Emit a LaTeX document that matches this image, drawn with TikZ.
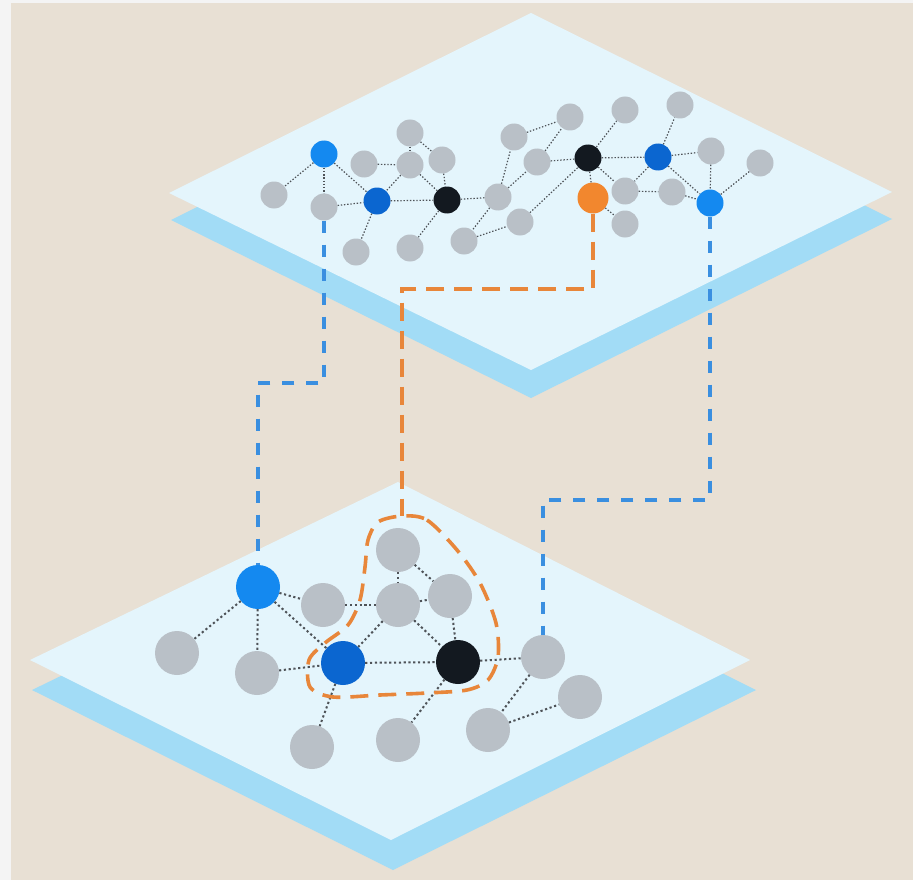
\documentclass[tikz,border=0pt]{standalone}
\usetikzlibrary{arrows}
\definecolor{sheet}{HTML}{F4F4F4}
\definecolor{beige}{HTML}{E8E0D4}
\definecolor{planetop}{HTML}{E4F5FC}
\definecolor{planeside}{HTML}{A2DCF6}
\definecolor{nodegray}{HTML}{B9C0C7}
\definecolor{lightblue}{HTML}{1489F0}
\definecolor{darkblue}{HTML}{0B66D0}
\definecolor{nodeblack}{HTML}{131920}
\definecolor{nodeorange}{HTML}{F2872E}
\definecolor{linkgray}{HTML}{4E5358}
\definecolor{linkblue}{HTML}{3A8FE0}
\definecolor{linkorange}{HTML}{E8863A}
\begin{document}
\begin{tikzpicture}[x=1pt,y=-1pt]
\tikzstyle{every node}=[minimum width=0pt, inner sep=0pt, circle]
\tikzstyle{small}=[minimum size=27pt]
\tikzstyle{big}=[minimum size=44pt]
\tikzstyle{gn}=[fill=nodegray]
\tikzstyle{lb}=[fill=lightblue]
\tikzstyle{db}=[fill=darkblue]
\tikzstyle{bk}=[fill=nodeblack]
\tikzstyle{on}=[fill=nodeorange]
\tikzstyle{thin}=[linkgray, line width=1.2pt, dash pattern=on 1.4pt off 1.8pt]
\tikzstyle{thick}=[linkgray, line width=2pt, dash pattern=on 2.2pt off 2.6pt]
\tikzstyle{bluedash}=[linkblue, line width=3.2pt, dash pattern=on 12pt off 12pt]
\tikzstyle{orangedash}=[linkorange, line width=3.6pt, dash pattern=on 18pt off 10pt]
\useasboundingbox (0,0) rectangle (913,880);
\fill[sheet] (0,0) rectangle (913,880);
\fill[beige] (11,3) rectangle (913,880);
% planes
\fill[planeside] (32,690) -- (398,512) -- (756,690) -- (393,870) -- cycle;
\fill[planetop] (30,660) -- (398,482) -- (750,660) -- (391,840) -- cycle;
\fill[planeside] (171,220) -- (531,40) -- (892,219) -- (531,398) -- cycle;
\fill[planetop] (169,193) -- (531,13) -- (892,192) -- (531,370) -- cycle;
% upper graph
\draw (324,154) node (u1) [small,lb] {};
\draw (274,195) node (u2) [small,gn] {};
\draw (324,207) node (u3) [small,gn] {};
\draw (364,164) node (u4) [small,gn] {};
\draw (377,201) node (u5) [small,db] {};
\draw (410,133) node (u6) [small,gn] {};
\draw (410,165) node (u7) [small,gn] {};
\draw (442,160) node (u8) [small,gn] {};
\draw (447,200) node (u9) [small,bk] {};
\draw (356,252) node (u10) [small,gn] {};
\draw (410,248) node (u11) [small,gn] {};
\draw (498,197) node (u12) [small,gn] {};
\draw (464,241) node (u13) [small,gn] {};
\draw (520,222) node (u14) [small,gn] {};
\draw (514,137) node (u15) [small,gn] {};
\draw (570,117) node (u16) [small,gn] {};
\draw (537,162) node (u17) [small,gn] {};
\draw (588,158) node (u18) [small,bk] {};
\draw (625,110) node (u19) [small,gn] {};
\draw (658,157) node (u20) [small,db] {};
\draw (680,105) node (u21) [small,gn] {};
\draw (711,151) node (u22) [small,gn] {};
\draw (760,163) node (u23) [small,gn] {};
\draw (710,203) node (u24) [small,lb] {};
\draw (593,198) node (u25) [small,on,minimum size=31pt] {};
\draw (625,191) node (u26) [small,gn] {};
\draw (672,192) node (u27) [small,gn] {};
\draw (625,224) node (u28) [small,gn] {};
\draw[thin] (u1) -- (u2);
\draw[thin] (u1) -- (u3);
\draw[thin] (u1) -- (u5);
\draw[thin] (u3) -- (u5);
\draw[thin] (u4) -- (u7);
\draw[thin] (u6) -- (u7);
\draw[thin] (u6) -- (u8);
\draw[thin] (u7) -- (u5);
\draw[thin] (u7) -- (u9);
\draw[thin] (u8) -- (u9);
\draw[thin] (u5) -- (u9);
\draw[thin] (u5) -- (u10);
\draw[thin] (u9) -- (u11);
\draw[thin] (u9) -- (u12);
\draw[thin] (u12) -- (u15);
\draw[thin] (u12) -- (u13);
\draw[thin] (u12) -- (u17);
\draw[thin] (u13) -- (u14);
\draw[thin] (u14) -- (u18);
\draw[thin] (u15) -- (u16);
\draw[thin] (u17) -- (u16);
\draw[thin] (u17) -- (u18);
\draw[thin] (u18) -- (u19);
\draw[thin] (u18) -- (u20);
\draw[thin] (u18) -- (u25);
\draw[thin] (u18) -- (u26);
\draw[thin] (u25) -- (u28);
\draw[thin] (u20) -- (u21);
\draw[thin] (u20) -- (u22);
\draw[thin] (u20) -- (u26);
\draw[thin] (u20) -- (u24);
\draw[thin] (u26) -- (u27);
\draw[thin] (u27) -- (u24);
\draw[thin] (u22) -- (u24);
\draw[thin] (u24) -- (u23);
% lower graph
\draw (258,587) node (l1) [big,lb] {};
\draw (323,605) node (l2) [big,gn] {};
\draw (177,653) node (l3) [big,gn] {};
\draw (257,673) node (l4) [big,gn] {};
\draw (343,663) node (l5) [big,db] {};
\draw (398,550) node (l6) [big,gn] {};
\draw (398,605) node (l7) [big,gn] {};
\draw (450,596) node (l8) [big,gn] {};
\draw (458,662) node (l9) [big,bk] {};
\draw (543,657) node (l10) [big,gn] {};
\draw (580,697) node (l11) [big,gn] {};
\draw (488,730) node (l12) [big,gn] {};
\draw (312,747) node (l13) [big,gn] {};
\draw (398,740) node (l14) [big,gn] {};
\draw[thick] (l1) -- (l3);
\draw[thick] (l1) -- (l4);
\draw[thick] (l1) -- (l2);
\draw[thick] (l1) -- (l5);
\draw[thick] (l4) -- (l5);
\draw[thick] (l2) -- (l7);
\draw[thick] (l6) -- (l7);
\draw[thick] (l6) -- (l8);
\draw[thick] (l7) -- (l8);
\draw[thick] (l7) -- (l5);
\draw[thick] (l7) -- (l9);
\draw[thick] (l8) -- (l9);
\draw[thick] (l5) -- (l9);
\draw[thick] (l9) -- (l10);
\draw[thick] (l5) -- (l13);
\draw[thick] (l9) -- (l14);
\draw[thick] (l10) -- (l12);
\draw[thick] (l12) -- (l11);
% links between the layers
\coordinate (k1) at (258,383);
\coordinate (k2) at (543,500);
\coordinate (k3) at (402,289);
\coordinate (k4) at (402,516);
\draw[bluedash] (u3) |- (k1) -- (l1);
\draw[bluedash] (u24) |- (k2) -- (l10);
\draw[orangedash] (u25) |- (k3) -- (k4);
\draw[orangedash] plot[smooth cycle] coordinates {(402,516) (427,520) (457,550) (480,583) (496,623) (498,657) (488,680) (467,690) (427,693) (380,695) (333,697) (310,687) (309,660) (325,643) (348,625) (360,600) (365,567) (368,540) (378,522)};
\end{tikzpicture}
\end{document}
